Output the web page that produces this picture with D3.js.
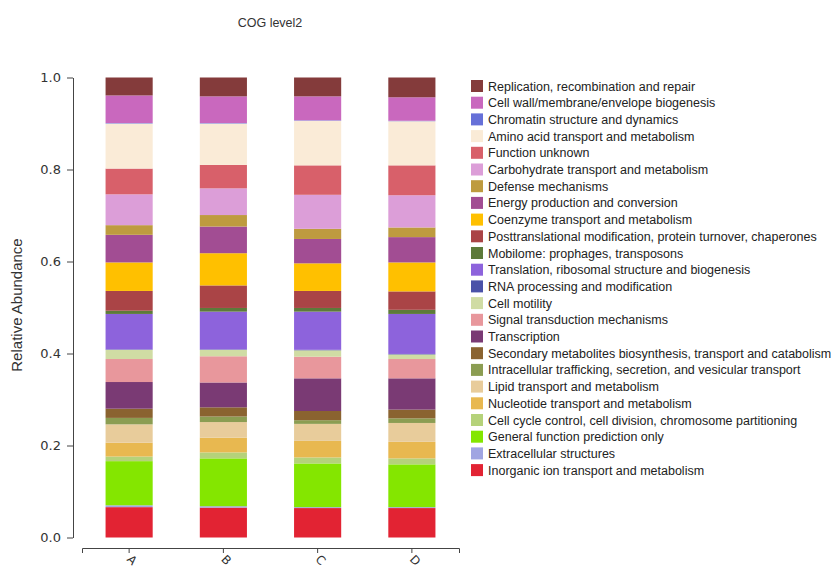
<!DOCTYPE html>
<html>
<head>
<meta charset="utf-8">
<script src="https://cdn.jsdelivr.net/npm/d3@7"></script>
<style>
    body { margin: 0; background: #fff; }
    svg { display: block; }
</style>
</head>
<body>
<div id="chart"></div>
<script>
// Legend order (top to bottom) = stack order reversed
const categories = [
    "Replication, recombination and repair",
    "Cell wall/membrane/envelope biogenesis",
    "Chromatin structure and dynamics",
    "Amino acid transport and metabolism",
    "Function unknown",
    "Carbohydrate transport and metabolism",
    "Defense mechanisms",
    "Energy production and conversion",
    "Coenzyme transport and metabolism",
    "Posttranslational modification, protein turnover, chaperones",
    "Mobilome: prophages, transposons",
    "Translation, ribosomal structure and biogenesis",
    "RNA processing and modification",
    "Cell motility",
    "Signal transduction mechanisms",
    "Transcription",
    "Secondary metabolites biosynthesis, transport and catabolism",
    "Intracellular trafficking, secretion, and vesicular transport",
    "Lipid transport and metabolism",
    "Nucleotide transport and metabolism",
    "Cell cycle control, cell division, chromosome partitioning",
    "General function prediction only",
    "Extracellular structures",
    "Inorganic ion transport and metabolism"
];

const colors = [
    "#843b3b", "#c968be", "#6670d8", "#faebd7", "#d8606a", "#dc9ed8",
    "#be9b3f", "#a24d93", "#ffc000", "#aa4446", "#5d7a3a", "#8d63dc",
    "#4a52a8", "#d0dca4", "#e8979c", "#7a3a74", "#8a6330", "#8b9d52",
    "#e8cc9b", "#e8b850", "#b5d27a", "#84e600", "#a0a5e2", "#e22333"
];

const samples = ["A", "B", "C", "D"];

// values per sample, same order as categories
const valuesA = [0.039, 0.060, 0.001, 0.098, 0.056, 0.067, 0.021, 0.060, 0.062, 0.043, 0.007, 0.077,
                 0.001, 0.020, 0.050, 0.058, 0.020, 0.014, 0.040, 0.030, 0.010, 0.096, 0.004, 0.066];
const valuesB = [0.041, 0.058, 0.001, 0.090, 0.051, 0.058, 0.025, 0.058, 0.070, 0.049, 0.008, 0.082,
                 0.001, 0.014, 0.057, 0.054, 0.020, 0.012, 0.034, 0.032, 0.013, 0.104, 0.003, 0.065];
const valuesC = [0.041, 0.052, 0.001, 0.097, 0.064, 0.074, 0.022, 0.053, 0.060, 0.037, 0.008, 0.083,
                 0.001, 0.014, 0.047, 0.071, 0.020, 0.008, 0.037, 0.036, 0.013, 0.095, 0.002, 0.064];
const valuesD = [0.043, 0.051, 0.001, 0.096, 0.065, 0.070, 0.021, 0.055, 0.063, 0.040, 0.009, 0.087,
                 0.001, 0.010, 0.042, 0.068, 0.019, 0.010, 0.041, 0.036, 0.013, 0.093, 0.002, 0.064];

const yTicks = [0, 0.2, 0.4, 0.6, 0.8, 1.0];

const width = 833, height = 567;

const svg = d3.select("#chart")
    .append("svg")
    .attr("width", width)
    .attr("height", height)
    .style("font-family", "'Liberation Sans', Arial, sans-serif");

// build rows for d3.stack
const sampleValues = [valuesA, valuesB, valuesC, valuesD];
const rows = samples.map((s, i) => {
    const row = { sample: s };
    categories.forEach((c, j) => { row[c] = sampleValues[i][j]; });
    return row;
});

const color = d3.scaleOrdinal().domain(categories).range(colors);

const x = d3.scaleBand()
    .domain(samples)
    .range([82, 459])
    .paddingInner(0.5)
    .paddingOuter(0.25);

const y = d3.scaleLinear()
    .domain([0, 1])
    .range([537.5, 77.5]);

const stack = d3.stack().keys(categories.slice().reverse());
const series = stack(rows);

svg.append("g")
    .selectAll("g")
    .data(series)
    .enter()
    .append("g")
    .attr("fill", d => color(d.key))
    .selectAll("rect")
    .data(d => d)
    .enter()
    .append("rect")
    .attr("x", d => x(d.data.sample))
    .attr("width", x.bandwidth())
    .attr("y", d => y(d[1]))
    .attr("height", d => y(d[0]) - y(d[1]));

// Y axis
const yAxis = svg.append("g")
    .attr("transform", "translate(73,0)")
    .call(d3.axisLeft(y).tickValues(yTicks).tickFormat(d3.format(".1f")).tickSize(6).tickSizeOuter(0));
yAxis.select(".domain").attr("stroke", "#444");
yAxis.selectAll(".tick line").attr("stroke", "#444");
yAxis.selectAll("text")
    .attr("x", -12)
    .style("font-family", "'DejaVu Sans', Verdana, sans-serif")
    .style("font-size", "13px")
    .attr("fill", "#333");

// X axis
const xAxis = svg.append("g")
    .attr("transform", "translate(0,548)")
    .call(d3.axisBottom(x).tickSize(5).tickSizeOuter(5));
xAxis.select(".domain").attr("stroke", "#444");
xAxis.selectAll(".tick line").attr("stroke", "#444");
xAxis.selectAll("text")
    .attr("x", 0)
    .attr("y", 0)
    .attr("dy", 0)
    .attr("transform", "translate(-3,12) rotate(45)")
    .attr("text-anchor", "start")
    .style("font-family", "'DejaVu Sans', Verdana, sans-serif")
    .style("font-size", "12px")
    .attr("fill", "#333");

// Title
svg.append("text")
    .attr("x", 270)
    .attr("y", 27)
    .attr("text-anchor", "middle")
    .style("font-size", "12.5px")
    .attr("fill", "#333")
    .text("COG level2");

// Y label
svg.append("text")
    .attr("transform", "rotate(-90)")
    .attr("x", -305)
    .attr("y", 22)
    .attr("text-anchor", "middle")
    .style("font-size", "15px")
    .attr("fill", "#333")
    .text("Relative Abundance");

// Legend
const legend = svg.append("g")
    .attr("transform", "translate(471,80)");

const legendItems = legend.selectAll(".legend-item")
    .data(categories)
    .enter()
    .append("g")
    .attr("class", "legend-item")
    .attr("transform", (d, i) => `translate(0, ${i * 16.7})`);

legendItems.append("rect")
    .attr("width", 12)
    .attr("height", 12)
    .attr("fill", d => color(d));

legendItems.append("text")
    .attr("x", 17)
    .attr("y", 10.5)
    .style("font-size", "12.5px")
    .attr("fill", "#222")
    .text(d => d);
</script>
</body>
</html>
